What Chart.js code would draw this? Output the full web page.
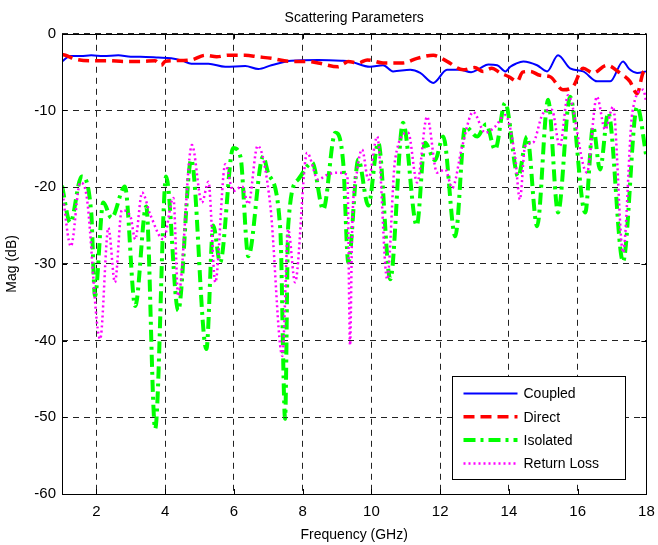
<!DOCTYPE html>
<html>
<head>
<meta charset="utf-8">
<title>Scattering Parameters</title>
<script src="https://cdn.jsdelivr.net/npm/chart.js@4.4.0/dist/chart.umd.min.js"></script>
<style>
	html, body { margin: 0; padding: 0; background: #fff; }
	#wrap { width: 658px; height: 545px; }
</style>
</head>
<body>
<div id="wrap"><canvas id="sparams" width="658" height="545"></canvas></div>
<script>
//axis ticks
var xTicks = [2, 4, 6, 8, 10, 12, 14, 16, 18];
var yTicks = [0, -10, -20, -30, -40, -50, -60];

//series names, same order as the legend
var seriesNames = ['Coupled', 'Direct', 'Isolated', 'Return Loss'];

//coupled (GHz / dB)
var coupledFreq = [1.0,1.24,1.55,1.85,2.2,2.64,3.0,3.28,3.8,4.18,4.5,4.76,5.26,5.75,6.33,6.71,7.09,7.67,8.45,9.12,9.38,9.96,10.34,10.63,11.13,11.42,11.8,12.2,12.58,12.9,13.16,13.4,13.66,13.9,14.04,14.2,14.42,14.82,15.11,15.43,15.78,16.16,16.57,16.95,17.32,17.5,17.73,18.0];
var coupledDb = [-3.6,-2.9,-2.9,-2.8,-2.9,-2.8,-3.0,-3.0,-3.1,-3.2,-3.5,-3.9,-3.9,-4.3,-4.2,-4.6,-4.1,-3.5,-3.4,-3.5,-3.6,-4.3,-4.1,-4.9,-4.7,-5.1,-6.4,-4.7,-4.7,-5.0,-4.5,-4.0,-4.1,-4.9,-4.3,-3.9,-3.6,-4.1,-4.9,-2.8,-4.5,-4.9,-6.2,-6.2,-3.6,-4.6,-5.1,-4.9];

//direct
var directFreq = [1.0,1.1,1.39,1.8,2.35,2.8,3.31,3.7,3.89,4.0,4.3,4.76,5.17,5.5,5.84,6.33,6.7,7.09,7.67,8.1,8.45,9.03,9.2,9.32,9.62,9.88,10.34,10.92,11.33,11.8,12.2,12.67,13.0,13.25,13.5,13.75,14.0,14.24,14.4,14.62,14.9,15.2,15.57,15.86,16.16,16.45,16.85,17.23,17.52,17.73,17.9,18.0];
var directDb = [-2.7,-2.8,-3.3,-3.5,-3.5,-3.6,-3.6,-3.5,-4.1,-3.6,-3.5,-3.4,-2.8,-3.0,-2.8,-2.8,-3.0,-3.2,-3.6,-3.6,-3.8,-4.3,-3.9,-3.6,-3.8,-3.4,-3.8,-3.8,-3.2,-2.8,-3.6,-4.7,-4.4,-4.9,-4.5,-5.1,-5.6,-6.2,-5.0,-4.9,-5.4,-5.6,-7.3,-6.9,-4.5,-5.1,-4.1,-5.1,-6.2,-7.8,-5.1,-4.7];

//isolated
var isolatedFreq = [1.0,1.24,1.57,1.85,1.96,2.2,2.44,2.83,3.13,3.45,3.71,4.03,4.38,4.76,5.2,5.4,5.6,5.98,6.19,6.42,6.85,7.0,7.35,7.49,7.58,7.87,8.28,8.6,8.95,9.18,9.33,9.62,9.91,10.2,10.55,10.92,11.32,11.56,11.85,12.09,12.44,12.73,13.08,13.34,13.6,13.89,14.27,14.53,14.82,15.14,15.43,15.78,16.22,16.45,16.65,16.89,17.32,17.73,18.0];
var isolatedDb = [-19.8,-24.6,-18.6,-23.3,-34.2,-22,-24,-19.9,-35.5,-22.5,-51.5,-18.6,-36.1,-16.4,-41.1,-25,-29.8,-14.9,-16,-29,-16,-18.2,-25.5,-50.2,-25,-19,-16.8,-22.9,-12.9,-16.8,-29.8,-16.4,-22.4,-14.2,-32,-11.6,-25,-14.2,-16.5,-13.4,-26.4,-12.1,-13.4,-11.8,-15.1,-9.0,-18.6,-13.4,-25.1,-8.6,-23.3,-8.2,-23.3,-12.1,-17.7,-10.3,-29.7,-9.5,-16];

//return loss
var returnFreq = [1.0,1.26,1.53,1.71,2.11,2.35,2.54,2.74,2.99,3.13,3.33,3.57,3.95,4.24,4.38,4.78,5.07,5.26,5.46,5.75,5.98,6.24,6.42,6.69,7.06,7.41,7.58,7.78,8.13,8.45,8.71,9.0,9.3,9.38,9.44,9.59,9.73,9.91,10.17,10.46,10.69,11.07,11.33,11.62,11.91,12.15,12.35,12.64,12.96,13.31,13.6,13.89,14.18,14.32,14.47,14.7,14.99,15.25,15.48,15.72,16.27,16.56,16.8,17.03,17.32,17.59,17.91,18.0];
var returnDb = [-20.2,-27.7,-19.4,-21,-39.8,-25.3,-32.4,-23,-23.8,-26.8,-20.7,-23.6,-26.8,-21.4,-34.2,-14.5,-22,-19.3,-32.4,-17,-20.5,-19.9,-22.2,-14.6,-22.4,-42,-25.5,-32.4,-15.5,-19,-18.4,-18.1,-18.4,-40.6,-25.5,-17.7,-15.1,-19,-13.4,-32,-16.4,-12.9,-19.4,-10.8,-18.1,-17.7,-20.1,-14.7,-10.2,-12.9,-12.1,-10.6,-16,-21.6,-14.7,-14.2,-10.4,-9.9,-14.7,-8,-18.1,-8.2,-12.5,-9.5,-28.5,-10.3,-7.3,-9];

Chart.defaults.font.family = "'Liberation Sans', Arial, Helvetica, sans-serif";
Chart.defaults.font.size = 14;
Chart.defaults.color = '#000';

//pairs freq + dB into points
function toPoints(f, d) {
	var pts = [];
	for (var i = 0; i < f.length; i++) {
		pts.push({x: f[i], y: d[i]});
	}
	return pts;
}

function makeSet(idx, f, d, color, width, dash, order) {
	return {
		label: seriesNames[idx],
		data: toPoints(f, d),
		borderColor: color,
		backgroundColor: color,
		borderWidth: width,
		borderDash: dash,
		borderCapStyle: 'butt',
		borderJoinStyle: 'round',
		cubicInterpolationMode: 'monotone',
		pointRadius: 0,
		fill: false,
		order: order
	};
}

//frame + inward ticks, matlab style
var frameTicks = {
	id: 'frameTicks',
	afterDatasetsDraw: function(chart) {
		var c = chart.ctx, a = chart.chartArea;
		var xs = chart.scales.x, ys = chart.scales.y;
		var len = 5;
		c.save();
		c.strokeStyle = '#000';
		c.lineWidth = 1;
		c.setLineDash([]);
		c.beginPath();
		xTicks.forEach(function(v) {
			var px = Math.round(xs.getPixelForValue(v)) + 0.5;
			c.moveTo(px, a.bottom); c.lineTo(px, a.bottom - len);
			c.moveTo(px, a.top); c.lineTo(px, a.top + len);
		});
		yTicks.forEach(function(v) {
			var py = Math.round(ys.getPixelForValue(v)) + 0.5;
			c.moveTo(a.left, py); c.lineTo(a.left + len, py);
			c.moveTo(a.right, py); c.lineTo(a.right - len, py);
		});
		c.stroke();
		c.strokeRect(Math.round(a.left) + 0.5, Math.round(a.top) + 0.5, Math.round(a.right - a.left), Math.round(a.bottom - a.top));
		c.restore();
	}
};

//legend box inside the axes, bottom right
var boxLegend = {
	id: 'boxLegend',
	afterDraw: function(chart) {
		var c = chart.ctx, a = chart.chartArea;
		var w = 173, h = 103;
		var x0 = Math.round(a.right - 21 - w) + 0.5;
		var y0 = Math.round(a.bottom - 15 - h) + 0.5;
		c.save();
		c.fillStyle = '#fff';
		c.fillRect(x0, y0, w, h);
		c.strokeStyle = '#000';
		c.lineWidth = 1;
		c.setLineDash([]);
		c.strokeRect(x0, y0, w, h);
		c.font = "14px 'Liberation Sans', Arial, sans-serif";
		c.fillStyle = '#000';
		c.textBaseline = 'middle';
		//legend follows seriesNames order
		var sets = chart.data.datasets;
		for (var i = 0; i < sets.length; i++) {
			var ds = sets[i];
			var ly = y0 + 17 + i * 23.3;
			c.beginPath();
			c.strokeStyle = ds.borderColor;
			c.lineWidth = ds.borderWidth;
			c.lineCap = 'butt';
			c.setLineDash(ds.borderDash);
			c.moveTo(x0 + 11, ly);
			c.lineTo(x0 + 65, ly);
			c.stroke();
			c.setLineDash([]);
			c.fillText(ds.label, x0 + 71, ly + 1);
		}
		c.restore();
	}
};

var ctx = document.getElementById('sparams');
var sChart = new Chart(ctx, {
	type: 'line',
	data: {
		datasets: [
			makeSet(0, coupledFreq, coupledDb, '#0000ff', 2, [], 4),
			makeSet(1, directFreq, directDb, '#ff0000', 3.5, [11, 6], 3),
			makeSet(2, isolatedFreq, isolatedDb, '#00ff00', 4, [12, 5, 3, 5], 2),
			makeSet(3, returnFreq, returnDb, '#ff00ff', 2.5, [2, 3], 1)
		]
	},
	options: {
		responsive: false,
		animation: false,
		layout: { padding: { left: 0, right: 11.6, top: 0, bottom: 0 } },
		plugins: {
			legend: { display: false },
			tooltip: { enabled: false },
			title: {
				display: true,
				//centred over the axes, like matlab
				fullSize: false,
				text: 'Scattering Parameters',
				font: { size: 14, weight: 'normal' },
				color: '#000',
				padding: { top: 10, bottom: 7 }
			}
		},
		scales: {
			x: {
				type: 'linear',
				min: 1,
				max: 18,
				afterBuildTicks: function(scale) {
					scale.ticks = xTicks.map(function(v) { return {value: v}; });
				},
				afterFit: function(scale) {
					scale.height = 51;
					//no extra side padding for the edge labels
					scale.paddingLeft = 0;
					scale.paddingRight = 0;
				},
				grid: { color: '#222', lineWidth: 1, drawTicks: false },
				border: { display: false, dash: [6, 5] },
				ticks: { padding: 9, maxRotation: 0, autoSkip: false, font: { size: 15 } },
				title: { display: true, text: 'Frequency (GHz)', font: { size: 14 }, padding: { top: 0, bottom: 1 } }
			},
			y: {
				type: 'linear',
				min: -60,
				max: 0,
				afterBuildTicks: function(scale) {
					scale.ticks = yTicks.map(function(v) { return {value: v}; });
				},
				afterFit: function(scale) { scale.width = 62; },
				grid: { color: '#222', lineWidth: 1, drawTicks: false },
				border: { display: false, dash: [6, 5] },
				ticks: { padding: 6, autoSkip: false, font: { size: 15 } },
				title: { display: true, text: 'Mag (dB)', font: { size: 14 }, padding: { top: 4, bottom: 0 } }
			}
		}
	},
	plugins: [frameTicks, boxLegend]
});
</script>
</body>
</html>
